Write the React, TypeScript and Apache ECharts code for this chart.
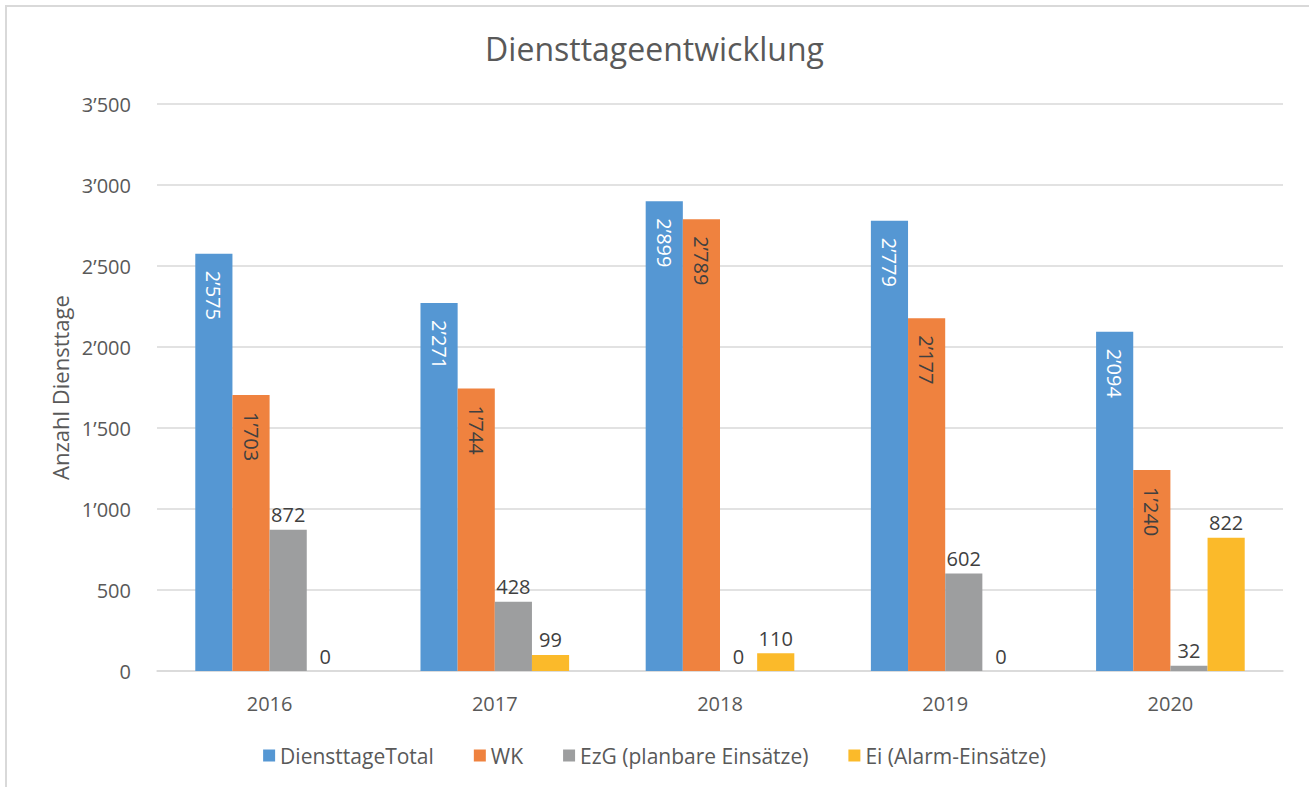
import React, { useEffect, useRef } from "react";
import * as echarts from "echarts";

const categories = ["2016", "2017", "2018", "2019", "2020"];
const seriesNames = ["DiensttageTotal", "WK", "EzG (planbare Einsätze)", "Ei (Alarm-Einsätze)"];
const totalValues = [2575, 2271, 2899, 2779, 2094];
const wkValues = [1703, 1744, 2789, 2177, 1240];
const ezgValues = [872, 428, 0, 602, 32];
const eiValues = [0, 99, 110, 0, 822];
const yTicks = { min: 0, max: 3500, interval: 500 };

const colors = ["#5597D3", "#EF823F", "#9D9E9F", "#FBBA2A"];
const FONT = "Open Sans";
const TEXT = "#595959";

const fmt = (v: number) => {
  const s = String(Math.round(v));
  return s.replace(/\B(?=(\d{3})+(?!\d))/g, "\u2019");
};

export default function App() {
  const ref = useRef<HTMLDivElement>(null);
  useEffect(() => {
    const chart = echarts.init(ref.current!, undefined, { renderer: "svg" });
    const insideLabel = (color: string) => ({
      show: true,
      position: "insideTop" as const,
      rotate: -90,
      align: "left" as const,
      verticalAlign: "middle" as const,
      distance: 17,
      color,
      fontFamily: FONT,
      fontSize: 20,
      formatter: (p: any) => fmt(p.value),
    });
    const topLabel = {
      show: true,
      position: "top" as const,
      distance: 5,
      color: "#404040",
      fontFamily: FONT,
      fontSize: 20,
      formatter: (p: any) => fmt(p.value),
    };
    const datas = [totalValues, wkValues, ezgValues, eiValues];
    chart.setOption({
      animation: false,
      backgroundColor: "#ffffff",
      title: {
        text: "Diensttageentwicklung",
        left: "center",
        top: 27,
        textStyle: { fontFamily: FONT, fontSize: 32, fontWeight: "normal", color: TEXT },
      },
      graphic: [
        {
          type: "rect",
          shape: { x: 6, y: 6, width: 1400, height: 1000 },
          style: { fill: "none", stroke: "#D9D9D9", lineWidth: 2 },
          silent: true,
        },
      ],
      legend: {
        bottom: 16,
        left: "center",
        icon: "rect",
        itemWidth: 12,
        itemHeight: 12,
        itemGap: 40,
        textStyle: { fontFamily: FONT, fontSize: 21, color: TEXT },
        data: seriesNames,
      },
      grid: { left: 157, right: 26, top: 104, bottom: 116 },
      xAxis: {
        type: "category",
        data: categories,
        axisLine: { lineStyle: { color: "#D9D9D9", width: 1.5 } },
        axisTick: { show: false },
        axisLabel: { fontFamily: FONT, fontSize: 20, color: TEXT, margin: 22 },
      },
      yAxis: {
        type: "value",
        min: yTicks.min,
        max: yTicks.max,
        interval: yTicks.interval,
        name: "Anzahl Diensttage",
        nameLocation: "middle",
        nameGap: 86,
        nameTextStyle: { fontFamily: FONT, fontSize: 22, color: TEXT },
        axisLine: { show: false },
        axisTick: { show: false },
        splitLine: { lineStyle: { color: "#D9D9D9", width: 1.5 } },
        axisLabel: { fontFamily: FONT, fontSize: 20, color: TEXT, margin: 26, formatter: (v: number) => fmt(v) },
      },
      series: seriesNames.map((name, i) => ({
        name,
        type: "bar",
        data: datas[i],
        barGap: "0%",
        barCategoryGap: "34%",
        itemStyle: { color: colors[i] },
        label: i === 0 ? insideLabel("#ffffff") : i === 1 ? insideLabel("#404040") : topLabel,
      })),
    });
    return () => chart.dispose();
  }, []);
  return (
    <div
      ref={ref}
      style={{ position: "fixed", left: 0, top: 0, width: 1309, height: 787 }}
    />
  );
}
